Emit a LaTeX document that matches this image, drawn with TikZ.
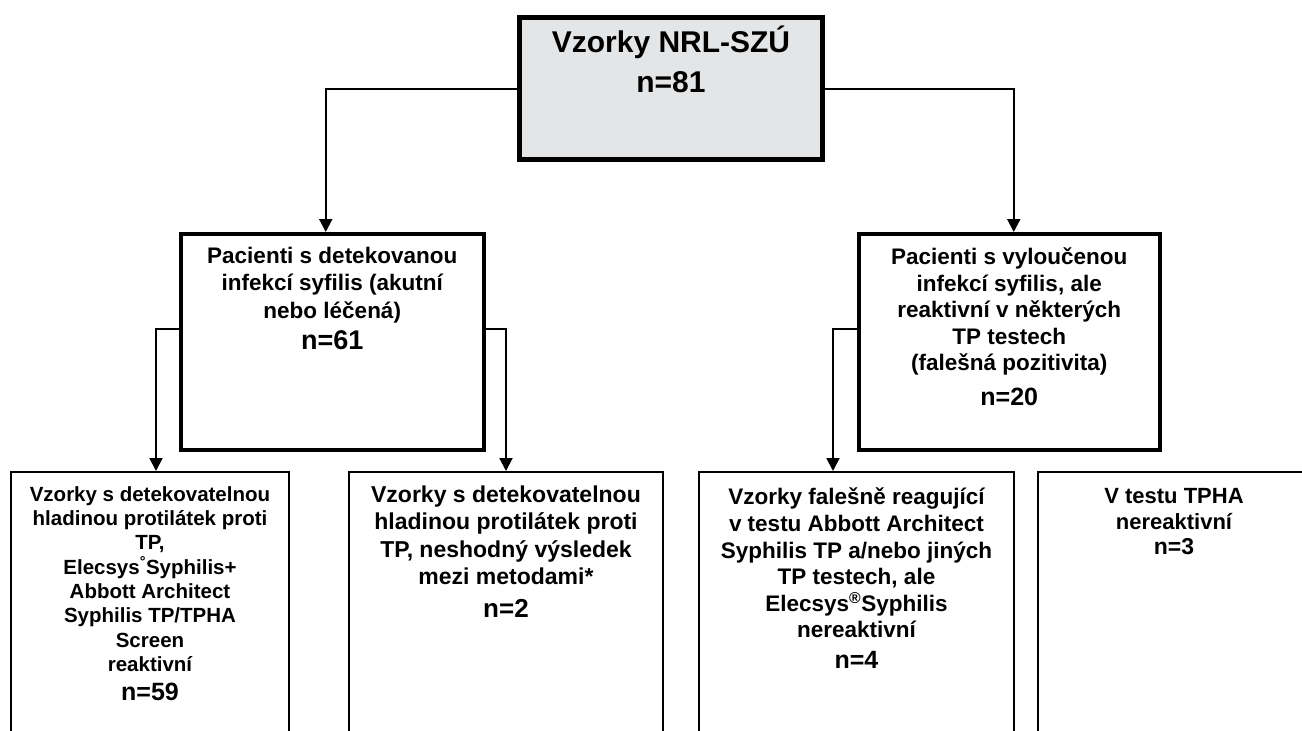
\documentclass[tikz,border=0pt]{standalone}
\usepackage{fontspec}
\setmainfont{Liberation Sans}
\usetikzlibrary{arrows.meta}
\definecolor{rootgray}{RGB}{228,229,231}
\newcommand{\boxtext}[4]{\parbox[c][#2][t]{#1}{\centering\bfseries\vspace*{#3}#4\par}}
\newcommand{\sz}[2]{\fontsize{#1}{#2}\selectfont}
\begin{document}
\begin{tikzpicture}[x=1pt,y=-1pt,
every node/.style={anchor=north west,
inner sep=0pt,
draw
},
rootbox/.style={%
line width=5pt,fill=rootgray
},
groupbox/.style={%
line width=3.5pt
},
leafbox/.style={%
line width=2pt
},
flow/.style={line width=2pt,-{Triangle[length=13pt,width=13pt]}}]
\useasboundingbox (0,0) rectangle (1302,731);
\node[rootbox]at(517,15)(root){\boxtext{303pt}{142pt}{8pt}{\sz{30}{40}Vzorky NRL-SZÚ\\n=81}};
\node[groupbox]at(179,232)(midl){\boxtext{303pt}{216pt}{13pt}{\sz{22.5}{27.5}Pacienti s detekovanou\\infekcí syfilis (akutní\\nebo léčená)\par\sz{27}{31.5}n=61}};
\node[groupbox]at(857,232)(midr){\boxtext{301pt}{216pt}{14pt}{\sz{22.5}{26.5}Pacienti s vyloučenou\\infekcí syfilis, ale\\reaktivní v některých\\TP testech\\(falešná pozitivita)\par\sz{25}{35}n=20}};
\node[leafbox]at(10,471)(leafa){\boxtext{278pt}{290pt}{14.5pt}{\sz{20.5}{24.3}Vzorky s detekovatelnou\\hladinou protilátek proti\\TP,\\Elecsys\textsuperscript{°}Syphilis+\\Abbott Architect\\Syphilis TP/TPHA\\Screen\\reaktivní\par\sz{25}{28.6}n=59}};
\node[leafbox]at(348,471)(leafb){\boxtext{314pt}{290pt}{14pt}{\sz{23}{27.3}Vzorky s detekovatelnou\\hladinou protilátek proti\\TP, neshodný výsledek\\mezi metodami*\par\sz{26}{33}n=2}};
\node[leafbox]at(698,471)(leafc){\boxtext{315pt}{290pt}{16pt}{\sz{22.5}{26.6}Vzorky falešně reagující\\v testu Abbott Architect\\Syphilis TP a/nebo jiných\\TP testech, ale\\Elecsys\textsuperscript{®}Syphilis\\nereaktivní\par\sz{25}{31}n=4}};
\node[leafbox]at(1037,471)(leafd){\boxtext{272pt}{290pt}{16pt}{\sz{22}{26}V testu TPHA\\nereaktivní\par\sz{23}{25}n=3}};
\draw[flow](root.west)-|([xshift=-6.5pt]midl.north);
\draw[flow](root.east)-|([xshift=4.5pt]midr.north);
\draw[flow]([yshift=13pt]midl.west)-|([xshift=6pt]leafa.north);
\draw[flow]([yshift=13pt]midl.east)-|(leafb.north);
\draw[flow]([yshift=13pt]midr.west)-|([xshift=-23.5pt]leafc.north);
\end{tikzpicture}
\end{document}
